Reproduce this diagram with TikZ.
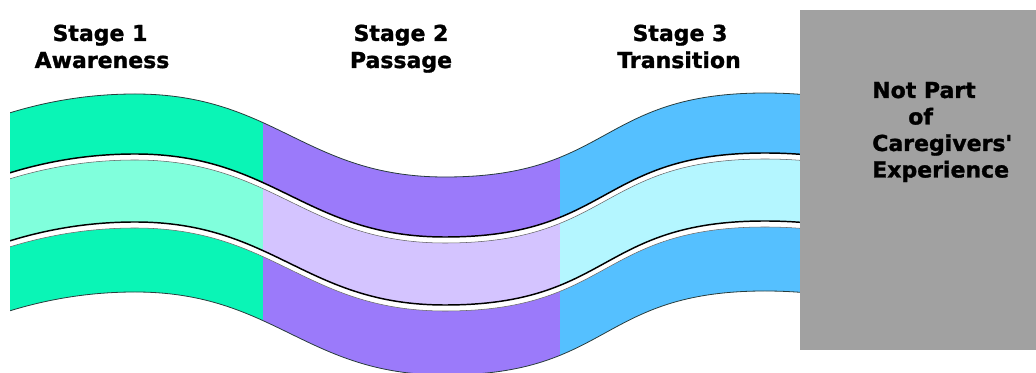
\documentclass[tikz,border=0pt]{standalone}
\usepackage{fontspec}
\setmainfont{DejaVu Sans}
\newfontfamily\lblfont{DejaVu Sans Bold}[FakeBold=1.3, Ligatures=TeXOff]
\definecolor{sOneDark}{RGB}{10,245,182}
\definecolor{sOneLight}{RGB}{128,255,220}
\definecolor{sTwoDark}{RGB}{155,122,250}
\definecolor{sTwoLight}{RGB}{212,196,255}
\definecolor{sThreeDark}{RGB}{85,192,255}
\definecolor{sThreeLight}{RGB}{180,246,255}
\definecolor{boxgray}{RGB}{161,161,161}
\definecolor{edgedark}{RGB}{40,60,60}
\newcommand\wavefw[1]{(0,116+#1) .. controls (45,101+#1) and (90,94+#1) .. (135,94+#1) .. controls (275,94+#1) and (305,177+#1) .. (445,177+#1) .. controls (612,177+#1) and (598,93+#1) .. (765,93+#1) .. controls (790,93+#1) and (810,95+#1) .. (830,97+#1)}
\newcommand\wavebw[1]{(830,97+#1) .. controls (810,95+#1) and (790,93+#1) .. (765,93+#1) .. controls (598,93+#1) and (612,177+#1) .. (445,177+#1) .. controls (305,177+#1) and (275,94+#1) .. (135,94+#1) .. controls (90,94+#1) and (45,101+#1) .. (0,116+#1)}
\tikzset{
  lbl/.style={font=\lblfont\fontsize{16.5}{19.5}\selectfont, inner sep=0pt, anchor=base},
  lbll/.style={lbl, anchor=base west},
  sepline/.style={line width=1.1pt, black},
  sepfaint/.style={line width=0.4pt, black!60},
  outline/.style={line width=0.6pt, edgedark}
}
\begin{document}
\begin{tikzpicture}[x=0.75pt, y=-0.75pt]
\useasboundingbox (0,0) rectangle (1036,373);
% stage fills
\begin{scope}
  \clip (10,0) rectangle (263,373);
  \fill[sOneDark] \wavefw{0} -- \wavebw{198} -- cycle;
  \fill[sOneLight] \wavefw{66} -- \wavebw{128} -- cycle;
\end{scope}
\begin{scope}
  \clip (263,0) rectangle (560,373);
  \fill[sTwoDark] \wavefw{0} -- \wavebw{198} -- cycle;
  \fill[sTwoLight] \wavefw{66} -- \wavebw{128} -- cycle;
\end{scope}
\begin{scope}
  \clip (560,0) rectangle (800,373);
  \fill[sThreeDark] \wavefw{0} -- \wavebw{198} -- cycle;
  \fill[sThreeLight] \wavefw{66} -- \wavebw{128} -- cycle;
\end{scope}
% separators and outlines
\begin{scope}
  \clip (10,0) rectangle (800,373);
  \fill[white] \wavefw{60} -- \wavebw{66} -- cycle;
  \fill[white] \wavefw{128} -- \wavebw{134} -- cycle;
  \draw[sepline] \wavefw{60};
  \draw[sepline] \wavefw{128};
  \draw[sepfaint] \wavefw{66};
  \draw[sepfaint] \wavefw{134};
  \draw[outline] \wavefw{0};
  \draw[outline] \wavefw{198};
\end{scope}
% gray box
\fill[boxgray] (800,10) rectangle (1036,350);
% labels
\node[lbl] (s1a) at (100,41) {Stage 1};
\node[lbl] (s1b) at (102,68) {Awareness};
\node[lbl] (s2a) at (401,41) {Stage 2};
\node[lbl] (s2b) at (401,68) {Passage};
\node[lbl] (s3a) at (680,41) {Stage 3};
\node[lbl] (s3b) at (679,68) {Transition};
\node[lbll] (n1) at (872,98) {Not Part};
\node[lbll] (n2) at (908,124.5) {of};
\node[lbll] (n3) at (872,151) {Caregivers'};
\node[lbll] (n4) at (872,177.5) {Experience};
\end{tikzpicture}
\end{document}
